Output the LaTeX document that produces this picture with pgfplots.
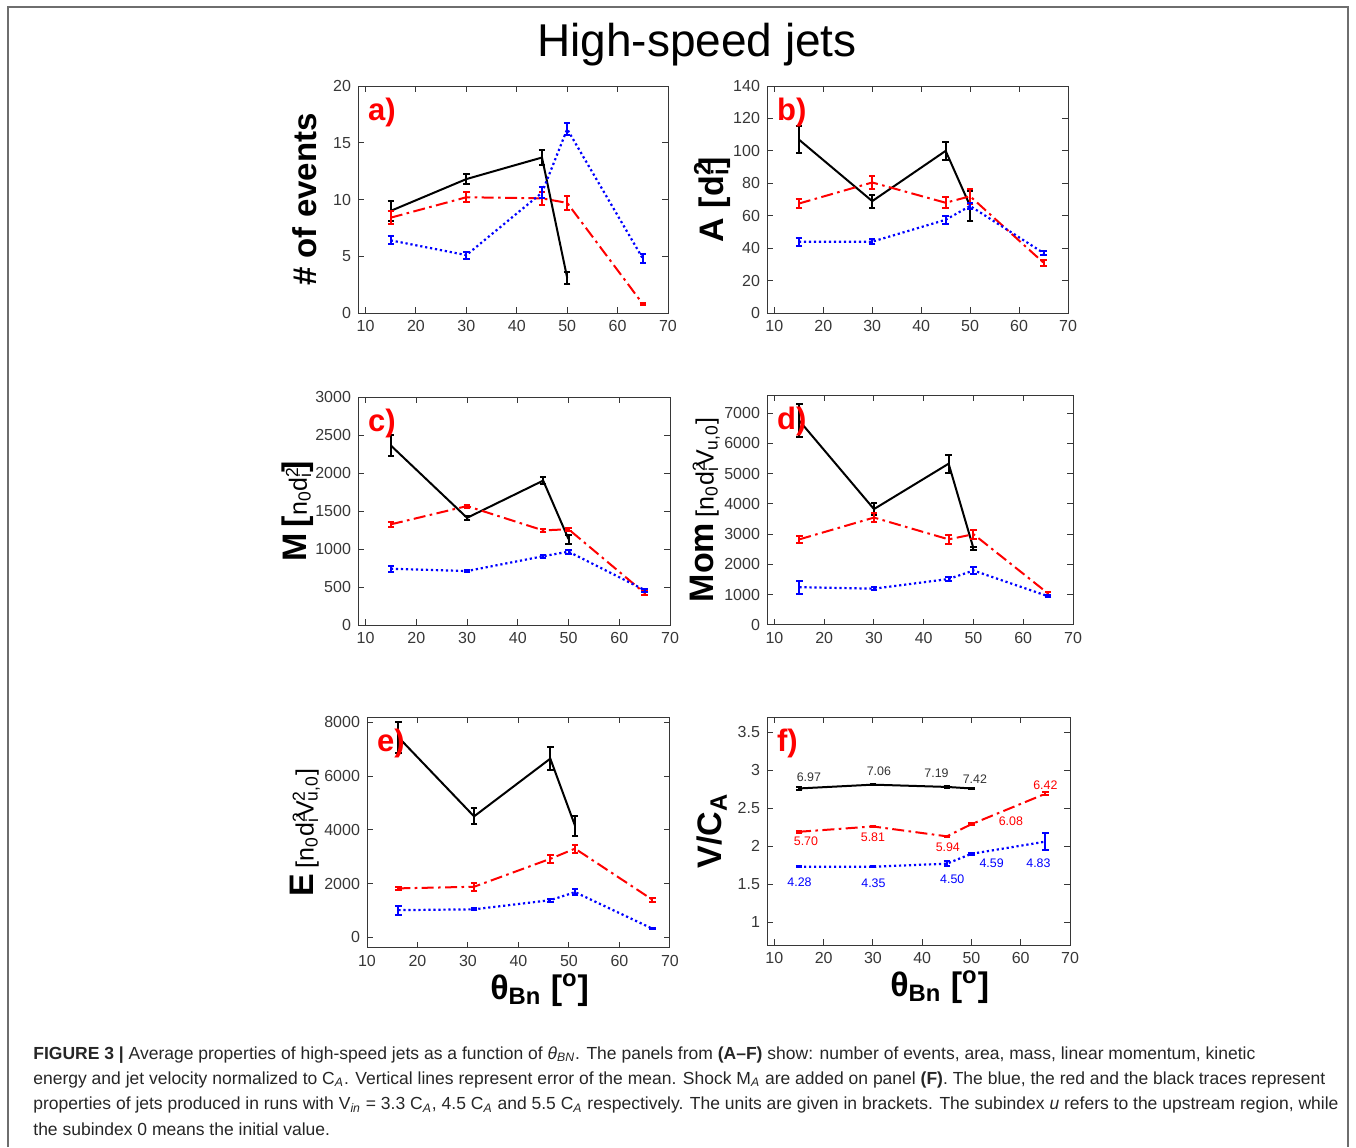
\documentclass[border=0pt]{standalone}
\usepackage{pgfplots}
\pgfplotsset{compat=1.18}
\usepackage{fontspec}
\setmainfont{Liberation Sans}
\setsansfont{Liberation Sans}

\definecolor{axgray}{RGB}{55,55,55}
\definecolor{framegray}{RGB}{110,110,110}
\newcommand{\supsub}[2]{\rlap{\textsuperscript{#1}}\textsubscript{#2}}
\newcommand{\lbig}{\fontsize{17}{17}\bfseries}
\newcommand{\lmid}{\fontsize{12.5}{13}\mdseries}

\tikzset{tag/.style={anchor=north west, text=red, font=\fontsize{15.5}{15.5}\bfseries}}
\pgfplotsset{
  jets/.style={
    scale only axis, anchor=north west,
    xmin=8.5, xmax=70, xtick={10,20,...,70},
    axis line style={axgray, line width=0.5pt},
    tick style={axgray, line width=0.5pt},
    tick align=inside, major tick length=3pt,
    ticklabel style={font=\fontsize{8}{9}\selectfont, text=axgray},
    /pgf/number format/assume math mode=true,
    /pgf/number format/1000 sep={},
    scaled y ticks=false,
    ylabel style={at={(axis description cs:0,0.5)}, anchor=center, yshift=#1},
    xlabel style={at={(axis description cs:0.57,0)}, anchor=center, yshift=-21pt},
  },
  jets/.default=27pt,
  errs/.style={
    error bars/y dir=both, error bars/y explicit,
    error bars/error bar style={solid, line width=1pt, #1},
    error bars/error mark options={rotate=90, solid, line width=1pt, mark size=1.6pt, #1},
  },
  blk/.style={black, line width=1pt, solid, errs=black},
  rd/.style={red, line width=1pt, dash pattern=on 6pt off 2.2pt on 1.3pt off 2.2pt, errs=red},
  bl/.style={blue, line width=1.1pt, dash pattern=on 1.1pt off 1.4pt, errs=blue},
}

\begin{document}
\begin{tikzpicture}
\path[use as bounding box] (0,0) rectangle (678pt,-573.5pt);
\draw[framegray, line width=0.7pt] (4pt,-573.5pt) -- (4pt,-3.5pt) -- (674pt,-3.5pt) -- (674pt,-573.5pt);
\node[font=\fontsize{23}{23}\selectfont] at (348.5pt,-22.5pt) {High-speed jets};

% a) number of events
\begin{axis}[jets=26.5pt, at={(179pt,-43pt)}, width=155pt, height=113.5pt,
  ymin=0, ymax=20, ytick={0,5,...,20},
  ylabel={\fontsize{16.5}{17}\bfseries \# of events}]
\addplot[blk] coordinates {(15,9.0) +- (0,0.85) (30,11.8) +- (0,0.45) (45,13.7) +- (0,0.65) (50,3.1) +- (0,0.55)};
\addplot[rd] coordinates {(15,8.4) +- (0,0.6) (30,10.2) +- (0,0.45) (45,10.1) +- (0,0.6) (50,9.7) +- (0,0.6) (65,0.8) +- (0,0.1)};
\addplot[bl] coordinates {(15,6.4) +- (0,0.35) (30,5.1) +- (0,0.3) (45,10.6) +- (0,0.5) (50,16.2) +- (0,0.55) (65,4.8) +- (0,0.4)};
\node[tag] at (rel axis cs:0.01,0.98) {a)};
\end{axis}

% b) area
\begin{axis}[jets=27.5pt, at={(383.5pt,-43pt)}, width=150.5pt, height=113.5pt,
  ymin=0, ymax=140, ytick={0,20,...,140},
  ylabel={\lbig A [d\supsub{2}{i}]}]
\addplot[blk] coordinates {(15,107) +- (0,8.5) (30,69) +- (0,4) (45,100) +- (0,5.5) (50,66) +- (0,9)};
\addplot[rd] coordinates {(15,67.5) +- (0,3) (30,80.5) +- (0,4) (45,68) +- (0,3.5) (50,72) +- (0,4.5) (65,31) +- (0,2)};
\addplot[bl] coordinates {(15,44) +- (0,2.5) (30,44) +- (0,1.5) (45,57.5) +- (0,2.5) (50,66) +- (0,2) (65,37) +- (0,1)};
\node[tag] at (rel axis cs:0.01,0.98) {b)};
\end{axis}

% c) mass
\begin{axis}[jets=30pt, at={(179pt,-198.5pt)}, width=156pt, height=114pt,
  ymin=0, ymax=3000, ytick={0,500,...,3000},
  ylabel={{\lbig M\,[}{\lmid n\textsubscript{0}d\supsub{2}{i}}{\lbig ]}}]
\addplot[blk] coordinates {(15,2360) +- (0,140) (30,1410) +- (0,30) (45,1900) +- (0,50) (50,1130) +- (0,60)};
\addplot[rd] coordinates {(15,1325) +- (0,30) (30,1565) +- (0,20) (45,1245) +- (0,20) (50,1260) +- (0,20) (65,420) +- (0,30)};
\addplot[bl] coordinates {(15,740) +- (0,40) (30,710) +- (0,15) (45,905) +- (0,20) (50,965) +- (0,25) (65,460) +- (0,20)};
\node[tag] at (rel axis cs:0.01,0.98) {c)};
\end{axis}

% d) momentum
\begin{axis}[jets=31pt, at={(383.5pt,-197.5pt)}, width=153pt, height=115pt,
  ymin=0, ymax=7600, ytick={0,1000,...,7000},
  ylabel={{\lbig Mom} {\lmid[n\textsubscript{0}d\supsub{2}{i}V\textsubscript{u,0}]}}]
\addplot[blk] coordinates {(15,6750) +- (0,550) (30,3830) +- (0,200) (45,5330) +- (0,300) (50,2530) +- (0,50)};
\addplot[rd] coordinates {(15,2830) +- (0,120) (30,3550) +- (0,150) (45,2830) +- (0,150) (50,3000) +- (0,150) (65,1040) +- (0,50)};
\addplot[bl] coordinates {(15,1250) +- (0,220) (30,1200) +- (0,60) (45,1520) +- (0,70) (50,1800) +- (0,120) (65,950) +- (0,40)};
\node[tag] at (rel axis cs:0.01,0.98) {d)};
\end{axis}

% e) kinetic energy
\begin{axis}[jets=31pt, at={(183.5pt,-358.5pt)}, width=151.5pt, height=115.5pt,
  xmin=10,
  ymin=-400, ymax=8200, ytick={0,2000,...,8000},
  ylabel={{\lbig E} {\lmid[n\textsubscript{0}d\supsub{2}{i}V\supsub{2}{u,0}]}},
  xlabel={\lbig θ\textsubscript{Bn} [\textsuperscript{o}]}]
\addplot[blk] coordinates {(16.2,7450) +- (0,580) (31.2,4500) +- (0,300) (46.3,6650) +- (0,420) (51.2,4150) +- (0,380)};
\addplot[rd] coordinates {(16.2,1820) +- (0,60) (31.2,1880) +- (0,150) (46.3,2920) +- (0,150) (51.2,3300) +- (0,150) (66.5,1400) +- (0,70)};
\addplot[bl] coordinates {(16.2,1010) +- (0,170) (31.2,1040) +- (0,40) (46.3,1380) +- (0,60) (51.2,1680) +- (0,100) (66.5,320) +- (0,30)};
\node[tag] at (rel axis cs:0.01,0.98) {e)};
\end{axis}

% f) velocity
\begin{axis}[jets=27.5pt, at={(383.5pt,-358.5pt)}, width=151.5pt, height=114pt,
  ymin=0.7, ymax=3.7, ytick={1,1.5,...,3.5},
  yticklabels={1,1.5,2,2.5,3,3.5},
  ylabel={\lbig V/C\textsubscript{A}},
  xlabel={\lbig θ\textsubscript{Bn} [\textsuperscript{o}]}]
\addplot[blk] coordinates {(15,2.76) +- (0,0.02) (30,2.81) +- (0,0.01) (45,2.78) +- (0,0.01) (50,2.76) +- (0,0.01)};
\addplot[rd] coordinates {(15,2.19) +- (0,0.01) (30,2.26) +- (0,0.01) (45,2.13) +- (0,0.01) (50,2.29) +- (0,0.01) (65,2.69) +- (0,0.02)};
\addplot[bl] coordinates {(15,1.73) +- (0,0.01) (30,1.73) +- (0,0.01) (45,1.77) +- (0,0.03) (50,1.90) +- (0,0.01) (65,2.06) +- (0,0.11)};
\begin{scope}[every node/.style={font=\fontsize{6.2}{7}\selectfont}]
\node[text=black!80] at (axis cs:17,2.91) {6.97};
\node[text=black!80] at (axis cs:31.2,2.99) {7.06};
\node[text=black!80] at (axis cs:42.9,2.96) {7.19};
\node[text=black!80] at (axis cs:50.7,2.88) {7.42};
\node[text=red] at (axis cs:16.4,2.07) {5.70};
\node[text=red] at (axis cs:30,2.12) {5.81};
\node[text=red] at (axis cs:45.2,1.98) {5.94};
\node[text=red] at (axis cs:58,2.33) {6.08};
\node[text=red] at (axis cs:65,2.80) {6.42};
\node[text=blue] at (axis cs:15.1,1.53) {4.28};
\node[text=blue] at (axis cs:30.1,1.51) {4.35};
\node[text=blue] at (axis cs:46.1,1.57) {4.50};
\node[text=blue] at (axis cs:54.1,1.78) {4.59};
\node[text=blue] at (axis cs:63.6,1.77) {4.83};
\end{scope}
\node[tag] at (rel axis cs:0.01,0.98) {f)};
\end{axis}

\node[anchor=north west, align=left, inner sep=0pt, text=black!85,
  font=\fontsize{8.75}{12.7}\selectfont] at (16.5pt,-523pt) {%
\textbf{FIGURE 3 |} Average properties of high-speed jets as a function of \textit{θ\textsubscript{BN}}. The panels from \textbf{(A–F)} show: number of events, area, mass, linear momentum, kinetic\\
energy and jet velocity normalized to C\textsubscript{\textit{A}}. Vertical lines represent error of the mean. Shock M\textsubscript{\textit{A}} are added on panel \textbf{(F)}. The blue, the red and the black traces represent\\
properties of jets produced in runs with V\textsubscript{\textit{in}} = 3.3 C\textsubscript{\textit{A}}, 4.5 C\textsubscript{\textit{A}} and 5.5 C\textsubscript{\textit{A}} respectively. The units are given in brackets. The subindex \textit{u} refers to the upstream region, while\\
the subindex 0 means the initial value.};
\end{tikzpicture}
\end{document}
